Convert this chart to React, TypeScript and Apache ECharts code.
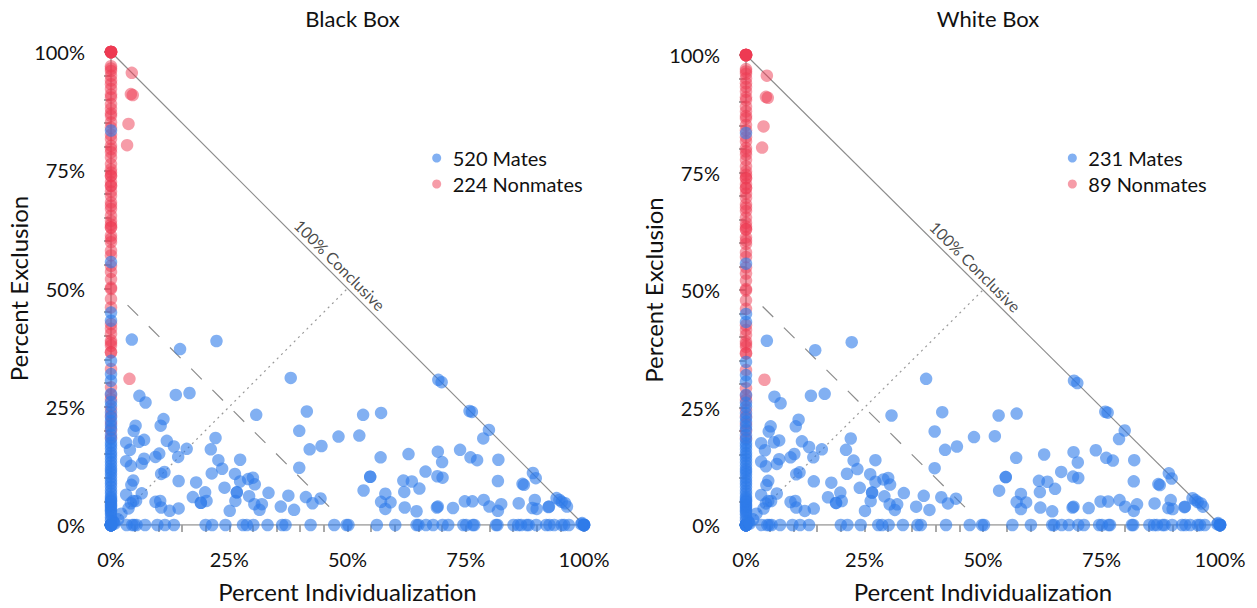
import { useEffect, useRef } from "react";
import * as echarts from "echarts";

const panelTitles = ["Black Box", "White Box"];
const mateCounts = [520, 231];
const nonmateCounts = [224, 89];
const axisTicks = [0, 25, 50, 75, 100];

// mates sitting on the 0% individualization axis (y values)
const mateColumnY = [
  0, 0, 0, 0, 0, 0, 0, 0, 0, 0, 1, 1.6, 2.3, 2.8, 3.1, 3.5, 3.9, 4.2, 4.5, 5, 5.2, 5.6, 6, 6.7,
  7.3, 8.1, 8.8, 9.4, 10.1, 10.8, 11.4, 11.9, 12.6, 13.3, 14, 14.7, 15.3, 16.1, 16.8, 17.4,
  18.2, 19.1, 20.3, 21, 22, 22.8, 23.8, 25.2, 26, 27.7, 30.5, 31.9, 34.7, 43.2, 44.9, 55.6, 83.4,
];

// mates sitting on the 0% exclusion axis (x values)
const mateBaseX = [
  0, 0, 0, 3.3, 4.5, 4.9, 5.4, 7.2, 9.8, 11.4, 13.3, 20.0, 21.4, 24.2, 27.9, 28.7, 30.1, 33.1,
  36.2, 36.9, 42.2, 47.2, 49.8, 50.2, 56.2, 60.1, 64.6, 65.0, 66.6, 68.1, 70.1, 71.3, 74.5, 75.1,
  76.5, 76.8, 81.4, 81.7, 85.1, 86.1, 86.7, 87.9, 88.3, 89.9, 92.0, 92.7, 93.7, 95.3, 95.8, 96.8,
  100, 100, 100, 100, 100, 100,
];

// [individualization, exclusion]
const mateInterior = [
  [4.4, 39.2], [14.6, 37.2], [22.3, 38.9], [38.0, 31.1], [6.0, 27.3], [7.3, 25.9], [13.7, 27.5],
  [16.6, 27.9], [41.4, 24.0], [30.7, 23.3], [11.1, 22.4], [10.5, 21.0], [5.2, 21.0], [4.8, 19.9],
  [39.8, 19.9], [48.1, 18.7], [22.1, 18.4], [3.2, 17.4], [4.0, 15.9], [5.9, 17.6], [7.0, 18.0],
  [11.8, 17.8], [13.3, 16.6], [16.0, 16.1], [21.1, 16.0], [44.5, 16.7], [42.0, 16.0], [3.2, 13.5],
  [4.2, 12.5], [6.5, 13.0], [7.0, 14.0], [9.4, 14.4], [10.2, 15.1], [14.2, 14.4], [22.7, 13.7],
  [27.3, 13.8], [23.5, 11.9], [21.3, 10.9], [26.2, 10.8], [39.8, 12.1], [10.6, 10.8], [11.3, 11.2],
  [4.7, 9.4], [4.3, 8.5], [14.3, 9.3], [18.0, 9.0], [27.3, 9.2], [29.0, 9.7], [30.0, 10.0],
  [30.4, 8.6], [24.0, 7.9], [19.9, 6.9], [26.6, 6.9], [26.6, 6.9], [33.3, 6.8], [37.5, 6.2],
  [41.2, 5.9], [44.3, 5.6], [42.6, 4.6], [3.2, 6.4], [6.5, 6.7], [4.7, 5.1], [4.2, 4.6],
  [3.7, 3.5], [5.3, 5.1], [9.4, 4.9], [10.4, 5.1], [10.6, 3.7], [12.4, 3.0], [14.3, 3.5],
  [17.3, 5.9], [19.0, 4.7], [19.0, 4.7], [20.2, 5.1], [25.1, 3.0], [26.3, 5.1], [29.2, 6.1],
  [30.3, 4.4], [31.4, 3.2], [31.9, 4.4], [35.9, 3.9], [38.7, 3.2], [1.5, 1.2], [2.2, 2.4],
  [0.6, 0.5], [0.4, 0.8], [0.8, 0.3],
  [69.2, 30.7], [69.9, 30.2], [53.3, 23.3], [57.1, 23.7], [75.8, 24.1], [76.3, 23.9], [79.9, 20.1],
  [78.7, 18.3], [52.5, 18.9], [57.0, 14.3], [62.9, 15.0], [69.1, 15.5], [70.0, 13.3], [73.8, 15.9],
  [76.0, 14.3], [77.4, 13.7], [81.9, 13.8], [54.8, 10.2], [54.8, 10.2], [66.5, 11.3], [69.0, 10.3],
  [70.1, 10.0], [81.8, 9.3], [89.2, 11.0], [89.8, 9.9], [87.0, 8.7], [87.3, 8.5], [53.4, 7.3],
  [61.8, 9.4], [63.6, 9.2], [62.0, 7.0], [65.2, 7.7], [58.0, 6.6], [57.1, 4.9], [59.1, 4.8],
  [58.0, 3.4], [62.1, 3.7], [64.6, 2.9], [68.9, 3.7], [69.1, 3.9], [72.3, 3.6], [74.8, 5.0],
  [76.4, 5.0], [78.8, 5.3], [80.0, 3.9], [81.8, 3.0], [82.5, 4.4], [86.2, 4.6], [89.6, 5.3],
  [89.1, 3.6], [90.0, 3.4], [92.5, 3.8], [92.6, 3.9], [94.2, 5.7], [94.8, 5.3], [95.3, 4.9],
  [96.0, 4.6], [96.4, 3.9], [99.6, 0.4], [99.4, 0.2],
];

// nonmates on the 0% individualization axis (y values)
const nonmateColumnY = [
  100, 100, 100, 100, 100, 100, 100, 100, 97, 96.5, 96, 95, 94, 93.2, 92.2, 91, 90.4, 89, 88, 87,
  86.5, 85.1, 84, 82.5, 81.6, 80.2, 79.5, 78.8, 77.7, 76.3, 75.2, 74.5, 73.8, 73.8, 72.5, 71.7,
  71.7, 70.5, 69.6, 68.2, 67.5, 66.8, 65.4, 64.3, 63.5, 62.9, 62.9, 61.2, 60.5, 59.8, 58, 57,
  54.8, 53.5, 52, 50.2, 49.9, 47.8, 46, 42.5, 41.5, 40.4, 39, 38.5, 37.9, 36.5, 36.5, 33, 29.1,
  27.5, 26.6, 24.5, 23.1, 21.5, 20, 18.5,
];

const nonmateInterior = [
  [4.4, 95.6], [4.2, 91.1], [4.6, 90.9], [3.7, 84.8], [3.4, 80.3], [3.9, 30.9],
];

// reference lines, in axis units
const conclusiveLine = [[0, 100], [100, 0]];
const halfConclusiveLine = [[3.5, 46.5], [46.5, 3.5]];
const balanceLine = [[1, 1], [50, 50]];
const baseLine = [[0, 0], [100, 0]];
const columnLine = [[0, 0], [0, 100]];
const conclusiveLabelAt = [48.4, 55];

const mates = [
  ...mateColumnY.map((y) => [0, y]),
  ...mateBaseX.map((x) => [x, 0]),
  ...mateInterior,
];
const nonmates = [...nonmateColumnY.map((y) => [0, y]), ...nonmateInterior];

const FONT = "Lato";
const BLUE = "#2f7bea";
const RED = "#ee3a52";

const grids = [
  { left: 111, top: 52, width: 473, height: 474 },
  { left: 746, top: 55, width: 474, height: 474 },
];

function buildOption() {
  const tickStyle = { color: "#a8a8a8", width: 2 };
  const axisBase = {
    type: "value",
    min: axisTicks[0],
    max: axisTicks[axisTicks.length - 1],
    interval: axisTicks[1] - axisTicks[0],
    offset: 14,
    axisLine: { show: false },
    axisTick: { show: true, length: 7, lineStyle: tickStyle },
    minorTick: { show: true, splitNumber: 5, length: 7, lineStyle: tickStyle },
    splitLine: { show: false },
    nameLocation: "middle",
    nameTextStyle: { fontSize: 24, color: "#111", fontFamily: FONT },
  };

  const guide = (gi: number, data: number[][], type: any, width = 1.2, color = "#8c8c8c") => ({
    type: "line",
    xAxisIndex: gi,
    yAxisIndex: gi,
    data,
    symbol: "none",
    silent: true,
    z: 1,
    lineStyle: { color, width, type },
  });

  const series: any[] = [];
  grids.forEach((_, gi) => {
    series.push(guide(gi, columnLine, "solid", 1.5, "#999"));
    series.push(guide(gi, baseLine, "solid", 1.5, "#999"));
    series.push(guide(gi, conclusiveLine, "solid", 1.2));
    series.push(guide(gi, halfConclusiveLine, [15, 15], 1.2));
    series.push(guide(gi, balanceLine, [2, 4], 1.2, "#999"));
    series.push({
      type: "scatter",
      xAxisIndex: gi,
      yAxisIndex: gi,
      data: [conclusiveLabelAt],
      symbolSize: 1,
      silent: true,
      itemStyle: { color: "rgba(0,0,0,0)" },
      label: {
        show: true,
        position: "inside",
        rotate: -45,
        formatter: "100% Conclusive",
        fontSize: 16,
        color: "#1a1a1a",
        fontFamily: FONT,
      },
    });
    series.push({
      name: `${nonmateCounts[gi]} Nonmates`,
      type: "scatter",
      xAxisIndex: gi,
      yAxisIndex: gi,
      data: nonmates,
      symbolSize: 12.5,
      itemStyle: { color: RED, opacity: 0.5 },
      z: 3,
    });
    series.push({
      name: `${mateCounts[gi]} Mates`,
      type: "scatter",
      xAxisIndex: gi,
      yAxisIndex: gi,
      data: mates,
      symbolSize: 12.5,
      itemStyle: { color: BLUE, opacity: 0.6 },
      z: 4,
    });
  });

  return {
    animation: false,
    textStyle: { fontFamily: FONT },
    title: grids.map((g, gi) => ({
      text: panelTitles[gi],
      left: g.left + g.width / 2,
      top: 2,
      textAlign: "center",
      textStyle: { fontSize: 22, fontWeight: "normal", color: "#111", fontFamily: FONT },
    })),
    legend: grids.map((g, gi) => ({
      data: [`${mateCounts[gi]} Mates`, `${nonmateCounts[gi]} Nonmates`],
      orient: "vertical",
      left: g.left + g.width * 0.66 + 4,
      top: 143,
      itemWidth: 22,
      itemHeight: 9,
      itemGap: 6,
      icon: "circle",
      selectedMode: false,
      textStyle: { fontSize: 20, color: "#111", fontFamily: FONT },
    })),
    grid: grids,
    xAxis: grids.map((_, gi) => ({
      ...axisBase,
      gridIndex: gi,
      name: "Percent Individualization",
      nameGap: 40,
      axisLabel: { formatter: "{value}%", fontSize: 20, color: "#111", margin: 10, fontFamily: FONT },
    })),
    yAxis: grids.map((_, gi) => ({
      ...axisBase,
      gridIndex: gi,
      name: "Percent Exclusion",
      nameGap: 60,
      axisLabel: { formatter: "{value}%", fontSize: 20, color: "#111", margin: 12, fontFamily: FONT },
    })),
    series,
  };
}

export default function App() {
  const containerRef = useRef<HTMLDivElement>(null);

  useEffect(() => {
    if (!containerRef.current) return;
    document.body.style.margin = "0";
    const chart = echarts.init(containerRef.current, null, { renderer: "svg" });
    chart.setOption(buildOption() as any);
    return () => chart.dispose();
  }, []);

  return <div ref={containerRef} style={{ width: 1257, height: 608 }} />;
}
